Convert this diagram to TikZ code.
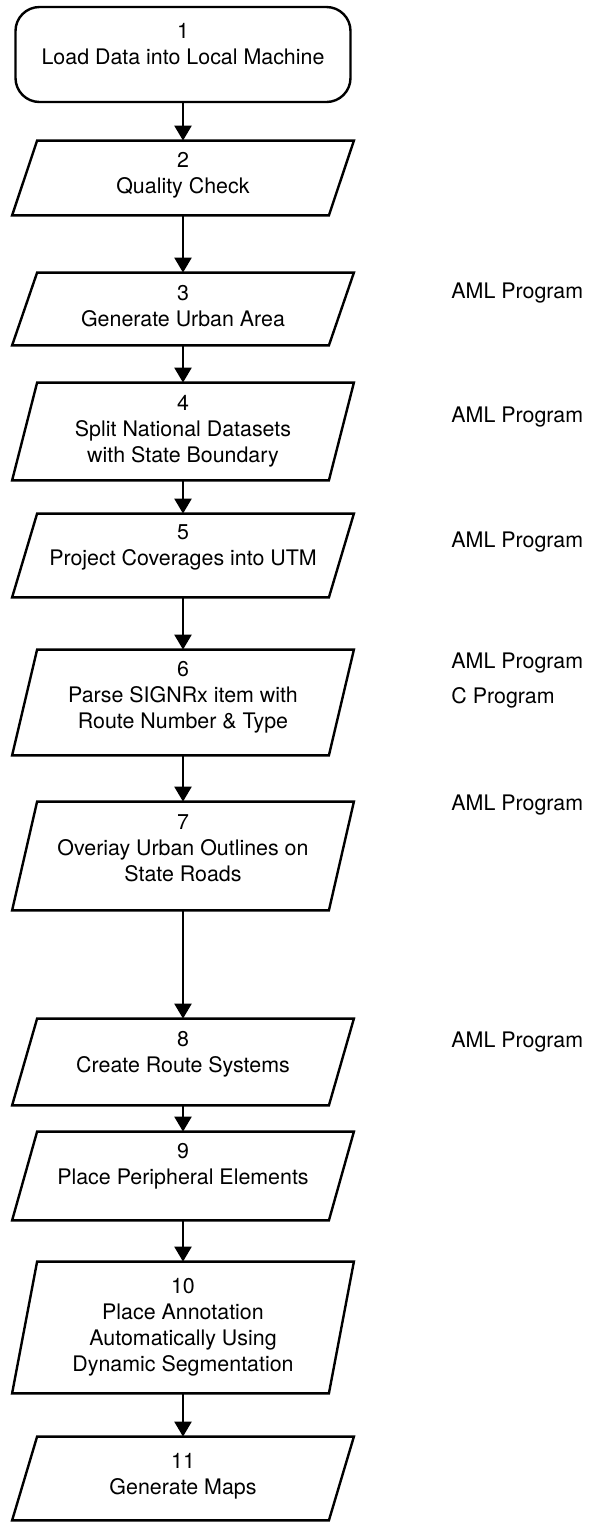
\documentclass[tikz,border=0pt]{standalone}
\usepackage{fontspec}
\setmainfont{TeX Gyre Heros}
\usetikzlibrary{arrows.meta, positioning}

\begin{document}
\begin{tikzpicture}[x=0.5pt, y=-0.5pt, font=\fontsize{10.7}{13}\selectfont,
    startbox/.style={draw, line width=1.2pt, rounded corners=12pt, minimum width=167.5pt, align=center},
    iobox/.style={inner sep=0pt, minimum width=158pt, align=center},
    flow/.style={-{Triangle[length=7.5pt,width=8.5pt]}, line width=1.2pt},
    note/.style={anchor=west, inner sep=0pt, align=left}]
    \useasboundingbox (0,0) rectangle (598,1522);
    \node[startbox, minimum height=47.5pt, text depth=11pt] (s1) at (183,54.5) {1\\Load Data into Local Machine};
    \node[iobox, minimum height=37pt, text depth=5pt] (s2) at (183,178) {2\\Quality Check};
    \node[iobox, minimum height=36pt, text depth=3.5pt] (s3) at (183,309) {3\\Generate Urban Area};
    \node[iobox, minimum height=48.5pt] (s4) at (183,431.5) {4\\Split National Datasets\\with State Boundary};
    \node[iobox, minimum height=41.5pt, text depth=10pt] (s5) at (183,555.5) {5\\Project Coverages into UTM};
    \node[iobox, minimum height=52.5pt, text depth=8pt] (s6) at (183,702.5) {6\\Parse SIGNRx item with\\Route Number \& Type};
    \node[iobox, minimum height=54pt, text depth=8pt] (s7) at (183,856) {7\\Overiay Urban Outlines on\\State Roads};
    \node[iobox, minimum height=43pt, text depth=10.5pt] (s8) at (183,1062) {8\\Create Route Systems};
    \node[iobox, minimum height=44pt, text depth=12pt] (s9) at (183,1176) {9\\Place Peripheral Elements};
    \node[iobox, minimum height=65.5pt, text depth=3pt] (s10) at (183,1327.5) {10\\Place Annotation\\Automatically Using\\Dynamic Segmentation};
    \node[iobox, minimum height=41.5pt, text depth=5pt] (s11) at (183,1478.5) {11\\Generate Maps};
    % parallelograms round the steps
    \foreach \n in {2,...,11}
        \draw[line width=1.2pt] ([xshift=6.25pt]s\n.north west) -- ([xshift=6.25pt]s\n.north east)
            -- ([xshift=-6.25pt]s\n.south east) -- ([xshift=-6.25pt]s\n.south west) -- cycle;
    \foreach \a/\b in {1/2,2/3,3/4,4/5,5/6,6/7,7/8,8/9,9/10,10/11}
        \draw[flow] (s\a.south) -- (s\b.north);
    % programs used
    \node[note] (p3) at (451,293) {AML Program};
    \node[note] (p4) at (451,417) {AML Program};
    \node[note] (p5) at (451,542) {AML Program};
    \node[note] (p6) at (451,680.5) {AML Program\\[4.5pt]C Program};
    \node[note] (p7) at (451,805) {AML Program};
    \node[note] (p8) at (451,1042) {AML Program};
\end{tikzpicture}
\end{document}
